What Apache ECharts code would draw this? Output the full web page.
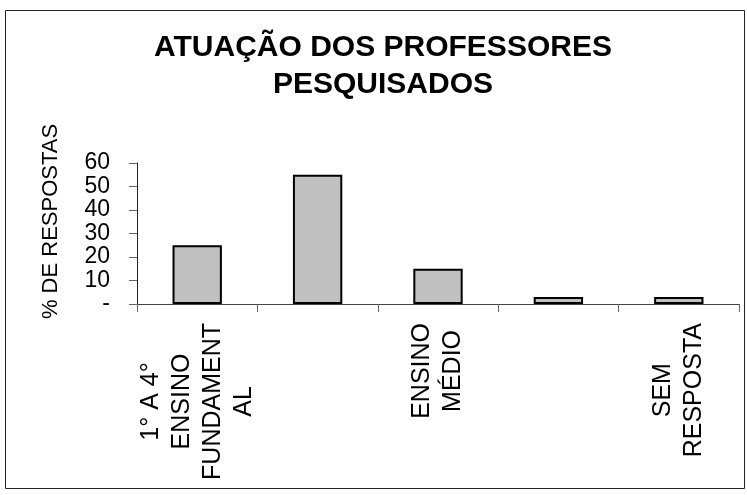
<!DOCTYPE html>
<html>
<head>
<meta charset="utf-8">
<script src="https://cdn.jsdelivr.net/npm/echarts@6/dist/echarts.min.js"></script>
<style>
html,body{margin:0;padding:0;background:#fff;}
#chart{width:747px;height:495px;}
</style>
</head>
<body>
<div id="chart"></div>
<script>
var titleText = 'ATUAÇÃO DOS PROFESSORES\nPESQUISADOS';
var yAxisName = '% DE RESPOSTAS';
var categories = [
  '1° A 4°\nENSINO\nFUNDAMENT\nAL',
  '5° A 8°\nENSINO\nFUNDAMENT\nAL',
  'ENSINO\nMÉDIO',
  'ENSINO\nSUPERIOR',
  'SEM\nRESPOSTA'
];
var values = [25, 55, 15, 3, 3];
var yTicks = { min: 0, max: 60, interval: 10, zeroLabel: '-' };

var FONT = '"Liberation Sans", Arial, Helvetica, sans-serif';
var chart = echarts.init(document.getElementById('chart'));
chart.setOption({
  backgroundColor: '#ffffff',
  animation: false,
  title: {
    text: titleText,
    left: 383,
    top: 29,
    padding: 0,
    textAlign: 'center',
    textStyle: {
      fontFamily: FONT,
      fontWeight: 'bold',
      fontSize: 30,
      lineHeight: 37,
      color: '#000'
    }
  },
  graphic: [{
    type: 'rect',
    shape: { x: 5.5, y: 10.5, width: 739, height: 478 },
    style: { fill: 'none', stroke: '#222', lineWidth: 1 },
    silent: true,
    z: -1
  }],
  grid: { left: 137, right: 8, top: 163, bottom: 191, containLabel: false },
  xAxis: {
    type: 'category',
    data: categories,
    boundaryGap: true,
    axisLine: { show: true, lineStyle: { color: '#444', width: 1 } },
    axisTick: { show: true, length: 8, alignWithLabel: false, interval: 0, lineStyle: { color: '#666' } },
    axisLabel: {
      interval: 1,
      rotate: 90,
      margin: 19,
      color: '#000',
      formatter: function (v) {
        return v.split('\n').map(function (s) { return '{c|' + s + '}'; }).join('\n');
      },
      rich: {
        c: { align: 'center', fontFamily: FONT, fontSize: 25, lineHeight: 31, color: '#000' }
      }
    },
    splitLine: { show: false }
  },
  yAxis: {
    type: 'value',
    min: yTicks.min,
    max: yTicks.max,
    interval: yTicks.interval,
    name: yAxisName,
    nameLocation: 'middle',
    nameRotate: 90,
    nameGap: 75,
    nameTextStyle: { fontFamily: FONT, fontSize: 22, color: '#000', padding: [0, 0, 0, 24] },
    axisLine: { show: true, lineStyle: { color: '#222', width: 1 } },
    axisTick: { show: true, length: 8, lineStyle: { color: '#666' } },
    axisLabel: {
      margin: 27,
      fontFamily: FONT,
      fontSize: 23,
      color: '#000',
      formatter: function (v) { return v === 0 ? yTicks.zeroLabel : String(v); }
    },
    splitLine: { show: false }
  },
  series: [{
    type: 'bar',
    data: values,
    barWidth: '41%',
    itemStyle: { color: '#c0c0c0', borderColor: '#000', borderWidth: 2 }
  }]
});
</script>
</body>
</html>
